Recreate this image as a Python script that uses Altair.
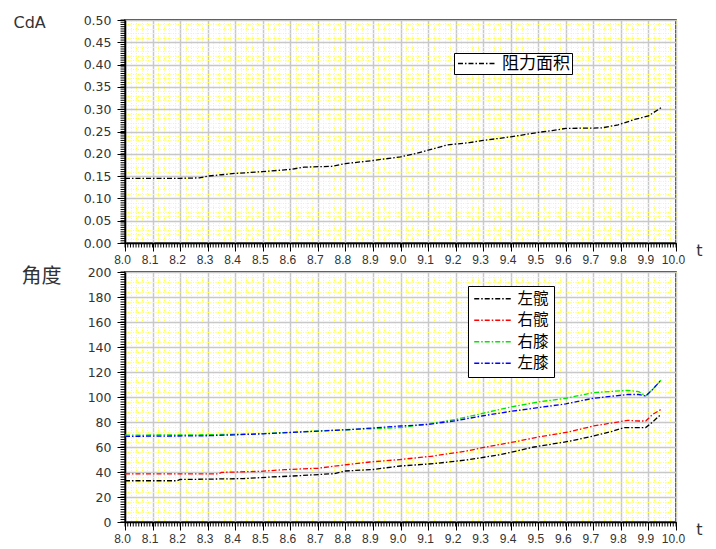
import altair as alt
import numpy as np
import pandas as pd

# ---------------- data ----------------
cda_t = [8.00, 8.10, 8.20, 8.27, 8.30, 8.35, 8.40, 8.50, 8.60, 8.65, 8.75, 8.80,
         8.90, 9.00, 9.05, 9.10, 9.17, 9.25, 9.30, 9.40, 9.45, 9.50, 9.55, 9.60,
         9.73, 9.79, 9.85, 9.90, 9.95]
cda_v = [0.145, 0.145, 0.145, 0.146, 0.150, 0.153, 0.156, 0.160, 0.165, 0.170, 0.172, 0.178,
         0.185, 0.193, 0.200, 0.208, 0.220, 0.225, 0.230, 0.238, 0.243, 0.248, 0.252, 0.257,
         0.258, 0.265, 0.277, 0.285, 0.305]
cda_name = "阻力面积"

lhip_t = [8.00, 8.19, 8.20, 8.43, 8.53, 8.61, 8.76, 8.80, 8.90, 9.00, 9.12, 9.24,
          9.365, 9.485, 9.61, 9.70, 9.765, 9.81, 9.89, 9.915, 9.945]
lhip_v = [33, 33, 34, 34.7, 36, 36.8, 38.7, 40.8, 42, 44.8, 46.7, 49.6,
          54, 60, 64.5, 68.8, 72.3, 75.5, 75.5, 80, 86]

rhip_t = [8.00, 8.34, 8.35, 8.49, 8.58, 8.70, 8.81, 8.89, 9.00, 9.12, 9.24, 9.31,
          9.43, 9.50, 9.61, 9.70, 9.825, 9.865, 9.89, 9.915, 9.945]
rhip_v = [38.5, 38.5, 39.7, 40.5, 41.9, 43, 46, 48, 50, 52.8, 56.8, 60,
          64.8, 68, 72, 76.8, 81.3, 80.8, 80.8, 86, 90]

knee_t = [8.00, 8.30, 8.50, 8.64, 8.82, 9.00, 9.10, 9.20, 9.30, 9.40, 9.50, 9.60,
          9.70, 9.825, 9.865, 9.89, 9.915, 9.945]
rknee_v = [69.5, 69.8, 70.7, 72.3, 74, 75.5, 78.5, 82, 87, 92, 96, 99,
           103.5, 105.3, 104.3, 100.8, 106, 113.4]
lknee_v = [68.5, 69, 70.5, 72, 74, 76.8, 78, 81, 85, 88.5, 91.5, 94.5,
           99, 102, 102, 100.8, 106, 113.4]

series_names = ["左髋", "右髋", "右膝", "左膝"]
series_colors = ["#000000", "#ff0000", "#00e600", "#0000ff"]

x_major = [round(8.0 + 0.1 * i, 1) for i in range(21)]
x_minor_grid = np.round(np.arange(8.0, 10.0001, 0.02), 2).tolist()
x_minor_tick = np.round(np.arange(8.0, 10.0001, 0.01), 2).tolist()
top_y_major = np.round(np.arange(0, 0.5001, 0.05), 2).tolist()
top_y_minor_grid = np.round(np.arange(0, 0.5001, 0.01), 3).tolist()
top_y_minor_tick = np.round(np.arange(0, 0.5001, 0.005), 3).tolist()
bot_y_major = list(range(0, 201, 20))
bot_y_minor_grid = list(range(0, 201, 4))
bot_y_minor_tick = list(range(0, 201, 2))

top_df = pd.DataFrame({"t": cda_t, "v": cda_v, "series": cda_name})
bot_df = pd.concat([
    pd.DataFrame({"t": lhip_t, "v": lhip_v, "series": series_names[0]}),
    pd.DataFrame({"t": rhip_t, "v": rhip_v, "series": series_names[1]}),
    pd.DataFrame({"t": knee_t, "v": rknee_v, "series": series_names[2]}),
    pd.DataFrame({"t": knee_t, "v": lknee_v, "series": series_names[3]}),
], ignore_index=True)

# ---------------- styling helpers ----------------
W = 551
TXT = "#333333"
DASH = [5, 2, 1.5, 2]
MINOR_TICK = 4.5


def minor_grid_axis(orient, values):
    return alt.Axis(orient=orient, values=values, grid=True, gridColor="#ffff5c",
                    gridDash=[1, 1.5], gridWidth=1, labels=False, ticks=False,
                    domain=False, title=None)


def x_major_axis():
    return alt.Axis(orient="bottom", values=x_major, format=".1f", grid=True,
                    gridColor="#c8c8c8", gridWidth=1.5, ticks=True, tickSize=8,
                    tickColor="black", tickWidth=1, domain=True, domainColor="black",
                    domainWidth=1.5, labelFont="Liberation Sans", labelFontSize=12,
                    labelColor=TXT, labelPadding=3, labelFlush=False, labelOverlap=False,
                    labelOffset=-3,
                    title="t", titleX=574, titleY=7, titleAngle=0, titleAlign="center",
                    titleBaseline="middle", titleFont="DejaVu Sans", titleFontSize=16,
                    titleFontWeight="normal", titleColor=TXT)


def y_major_axis(values, fmt, title, title_x, title_y, title_font, title_size):
    return alt.Axis(orient="left", values=values, format=fmt, grid=True,
                    gridColor="#c8c8c8", gridWidth=1.5, ticks=True, tickSize=8,
                    tickColor="black", tickWidth=1, domain=True, domainColor="black",
                    domainWidth=1.5, labelFont="DejaVu Sans", labelFontSize=12.5,
                    labelColor=TXT, labelPadding=6, labelFlush=False, labelOverlap=False,
                    title=title, titleX=title_x, titleY=title_y, titleAngle=0,
                    titleAlign="left", titleBaseline="middle", titleFont=title_font,
                    titleFontSize=title_size, titleFontWeight="normal", titleColor=TXT)


def panel(df, y_domain, y_minor_grid, y_minor_tick, y_axis, color_scale, legend, height):
    xs = alt.Scale(domain=[8.0, 10.0], nice=False, zero=False)
    ys = alt.Scale(domain=y_domain, nice=False, zero=False)
    base = alt.Chart(df)
    grid_minor = base.mark_line(opacity=0).encode(
        x=alt.X("t:Q", scale=xs, axis=minor_grid_axis("bottom", x_minor_grid)),
        y=alt.Y("v:Q", scale=ys, axis=minor_grid_axis("left", y_minor_grid)),
    )
    grid_major = base.mark_line(opacity=0).encode(
        x=alt.X("t:Q", scale=xs, axis=x_major_axis()),
        y=alt.Y("v:Q", scale=ys, axis=y_axis),
    )
    # minor tick marks just outside the plot area, placed by the scales
    xticks = alt.Chart(pd.DataFrame({"t": x_minor_tick})).mark_rule(
        color="black", strokeWidth=1).encode(
        x=alt.X("t:Q", scale=xs, axis=None),
        y=alt.value(height), y2=alt.value(height + MINOR_TICK),
    )
    yticks = alt.Chart(pd.DataFrame({"v": y_minor_tick})).mark_rule(
        color="black", strokeWidth=1).encode(
        y=alt.Y("v:Q", scale=ys, axis=None),
        x=alt.value(0), x2=alt.value(-MINOR_TICK),
    )
    lines = base.mark_line(strokeDash=DASH, strokeWidth=1.3).encode(
        x=alt.X("t:Q", scale=xs, axis=None),
        y=alt.Y("v:Q", scale=ys, axis=None),
        color=alt.Color("series:N", scale=color_scale, legend=legend),
    )
    return alt.layer(grid_minor, grid_major, xticks, yticks, lines).resolve_axis(
        x="independent", y="independent").properties(width=W, height=height)


SYM_PATH = "M-2.8,0H2.8"
SYM_SIZE = 175  # sqrt = 13.2 -> stroke length ~37 px


def make_legend(x, y, font_size, row_pad, pad):
    return alt.Legend(title=None, orient="none", legendX=x, legendY=y,
                      symbolType=SYM_PATH, symbolSize=SYM_SIZE, symbolStrokeWidth=1.5,
                      symbolDash=DASH, symbolOffset=12, labelFont="Noto Sans CJK SC",
                      labelFontSize=font_size, labelColor="black", strokeColor="black",
                      fillColor="white", padding=pad, rowPadding=row_pad, labelOffset=17,
                      cornerRadius=0, labelLimit=200)


top = panel(
    top_df, [0, 0.5], top_y_minor_grid, top_y_minor_tick,
    y_major_axis(top_y_major, ".2f", "CdA", -112, 2, "DejaVu Sans", 16),
    alt.Scale(domain=[cda_name], range=["#000000"]),
    make_legend(329, 33, 17, 4, 2), 223,
)

bottom = panel(
    bot_df, [0, 200], bot_y_minor_grid, bot_y_minor_tick,
    y_major_axis(bot_y_major, "d", "角度", -104, 4, "Noto Sans CJK SC", 20),
    alt.Scale(domain=series_names, range=series_colors),
    make_legend(343, 14, 15.5, 4.5, 5), 250,
)

chart = alt.vconcat(top, bottom, spacing=29, bounds="flush").resolve_scale(
    color="independent"
).properties(
    padding={"left": 4, "top": 5, "right": 5, "bottom": 5},
    background="white",
).configure_view(stroke="black", strokeWidth=1.5, fill="white")

chart.save("out.html", embed_options={"renderer": "svg", "actions": False})
